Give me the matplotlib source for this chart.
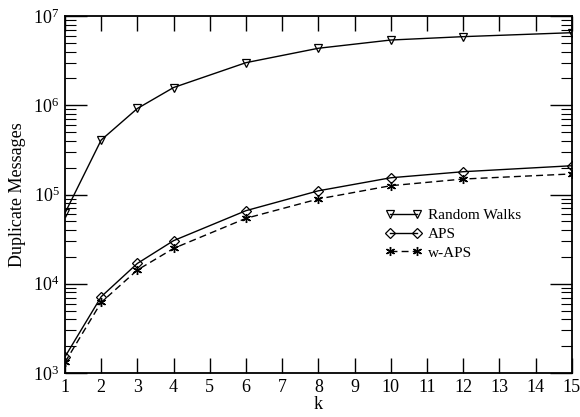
import matplotlib
matplotlib.use("Agg")
import matplotlib.pyplot as plt
from matplotlib.ticker import LogLocator, NullFormatter, FixedLocator

plt.rcParams['font.family'] = ['Liberation Serif', 'DejaVu Serif']
plt.rcParams['mathtext.fontset'] = 'stix'

k = [1, 2, 3, 4, 6, 8, 10, 12, 15]
random_walks = [62000, 408000, 920000, 1580000, 3000000, 4350000, 5380000, 5870000, 6500000]
aps = [1520, 7160, 16900, 30400, 65900, 110000, 154000, 180000, 210000]
w_aps = [1320, 6190, 14250, 24900, 54100, 89100, 125500, 149000, 170000]
xticks = list(range(1, 16))

fig = plt.figure(figsize=(5.8, 4.17), dpi=100)
ax = fig.add_axes([65/580, 1-373/417, (571.7-65)/580, (373-16)/417])

ax.plot(k, random_walks, '-', color='black', lw=1.0, marker='v', ms=6,
        mfc='none', mec='black', mew=0.9, label='Random Walks')
ax.plot(k, aps, '-', color='black', lw=1.0, marker='D', ms=5,
        mfc='none', mec='black', mew=0.9, label='APS')
ax.plot(k, w_aps, '--', color='black', lw=1.0, marker=(6, 2, 0), ms=6.5,
        mec='black', mew=1.0, label='w-APS', dashes=(5, 3))

ax.set_yscale('log')
ax.set_xlim(1, 15)
ax.set_ylim(1e3, 1e7)
ax.xaxis.set_major_locator(FixedLocator(xticks))
ax.set_xticklabels([str(t) for t in xticks])
ax.yaxis.set_major_locator(LogLocator(base=10, numticks=10))
ax.yaxis.set_minor_locator(LogLocator(base=10, subs=range(2, 10), numticks=20))
ax.yaxis.set_minor_formatter(NullFormatter())

ax.tick_params(axis='both', which='major', direction='in', length=11, width=1.0,
               top=True, right=True, labelsize=13, pad=4)
ax.tick_params(axis='y', which='major', length=16)
ax.tick_params(axis='y', which='minor', direction='in', length=8, width=0.8,
               left=True, right=True)
for s in ax.spines.values():
    s.set_linewidth(1.3)

ax.set_xlabel('k', fontsize=13, labelpad=0)
ax.set_ylabel('Duplicate Messages', fontsize=13, labelpad=5)

ax.legend(loc='upper left', bbox_to_anchor=(0.62, 0.478), frameon=False,
          numpoints=2, fontsize=11, handlelength=2.4, handletextpad=0.4,
          labelspacing=0.33, borderaxespad=0)

fig.savefig('out.png', dpi=100)
